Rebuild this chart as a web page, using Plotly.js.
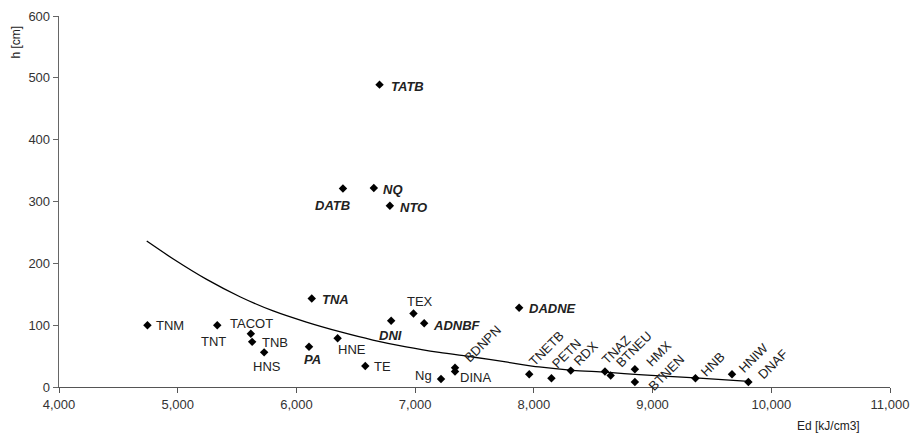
<!DOCTYPE html>
<html>
<head>
<meta charset="utf-8">
<script src="https://cdn.plot.ly/plotly-3.0.1.min.js"></script>
<style>html,body{margin:0;padding:0;background:#fff;}#chart{width:911px;height:434px;}</style>
</head>
<body>
<div id="chart"></div>
<script>
// Data
var names = ['TNM','TNT','TACOT','TNB','HNS','PA','TNA','HNE','TE','DATB','NQ','TATB','NTO','DNI','TEX','ADNBF','Ng','BDNPN','DINA','DADNE','TNETB','PETN','RDX','TNAZ','BTNEU','HMX','BTNEN','HNB','HNIW','DNAF'];
var ed = [4745, 5333, 5616, 5627, 5728, 6106, 6129, 6347, 6580, 6392, 6652, 6700, 6787, 6798, 6986, 7076, 7218, 7336, 7336, 7876, 7961, 8148, 8311, 8599, 8647, 8851, 8851, 9361, 9669, 9807];
var h = [100, 100, 86, 73, 56, 65, 143, 79, 34, 321, 322, 489, 293, 107, 119, 103, 13, 31, 25, 128, 20.5, 14, 26.5, 25, 18.5, 28.6, 8, 14, 20.5, 8];
var emphasised = ['TATB','NQ','DATB','NTO','TNA','DNI','PA','ADNBF','DADNE'];

// Trend curve
var trendEd = [4739, 4963, 5244, 5524, 5804, 6084, 6364, 6644, 6924, 7204, 7484, 7764, 8044, 8324, 8605, 8885, 9361, 9809];
var trendH = [236, 207, 174, 146, 123, 105, 89.5, 76, 65, 56, 48.5, 40.5, 32.4, 27, 24, 20, 14.6, 9];

var xTicks = [4000, 5000, 6000, 7000, 8000, 9000, 10000, 11000];
var yTicks = [0, 100, 200, 300, 400, 500, 600];

// label placement: [anchor, dx(px right), dy(px down), angle]
var place = {
  TNM:['left',7,0,0], TNT:['center',-4,16,0], TACOT:['center',1,-10,0], TNB:['left',8,1,0],
  HNS:['center',3,14,0], PA:['center',3,13,0], TNA:['left',8,1,0], HNE:['center',14,11,0],
  TE:['left',7,1,0], DATB:['center',-10,17,0], NQ:['left',7,2,0], TATB:['left',9,2,0],
  NTO:['left',8,2,0], DNI:['center',-1,15,0], TEX:['center',7,-12,0], ADNBF:['left',7,2,0],
  Ng:['right',-7,-3,0], BDNPN:['center',28,-24,-45], DINA:['left',3,6,0], DADNE:['left',8,1,0],
  TNETB:['center',17,-26,-45], PETN:['center',15,-25,-45], RDX:['center',15,-17,-45],
  TNAZ:['center',11.5,-22,-45], BTNEU:['center',23,-26,-45], HMX:['center',24,-16,-45],
  BTNEN:['center',31.5,-10,-45], HNB:['center',17,-14,-45], HNIW:['center',22,-16.5,-45],
  DNAF:['center',24,-18,-45]
};

var FONT = 'Liberation Sans, Arial, sans-serif';
var annotations = names.map(function(n, i){
  var p = place[n];
  var bold = emphasised.indexOf(n) >= 0;
  return {
    x: ed[i], y: h[i], xref:'x', yref:'y',
    text: bold ? '<b><i>' + n + '</i></b>' : n,
    showarrow:false, xanchor:p[0], yanchor:'middle',
    xshift:p[1], yshift:-p[2], textangle:p[3],
    font:{family:FONT, size:13, color:'#222'}
  };
});
annotations.push({
  xref:'paper', yref:'paper', x:(862-59)/(890-59), y:0, xanchor:'right', yanchor:'top',
  yshift:-30, text:'Ed [kJ/cm3]', showarrow:false, font:{family:FONT, size:12, color:'#222'}
});
annotations.push({
  xref:'paper', yref:'paper', x:0, y:1, xanchor:'center', yanchor:'top', xshift:-44, yshift:-8,
  textangle:-90, text:'h [cm]', showarrow:false, font:{family:FONT, size:12, color:'#222'}
});

var traces = [
  {x: trendEd, y: trendH, mode:'lines', type:'scatter', line:{color:'#000', width:1.3, shape:'spline', smoothing:0.8}, hoverinfo:'skip'},
  {x: ed, y: h, mode:'markers', type:'scatter', marker:{symbol:'diamond', size:6.5, color:'#000'}, cliponaxis:false}
];

var layout = {
  width:911, height:434,
  margin:{l:59, r:21, t:16, b:47},
  paper_bgcolor:'#fff', plot_bgcolor:'#fff',
  showlegend:false, hovermode:false,
  font:{family:FONT, size:13, color:'#333'},
  xaxis:{range:[4000,11000], tickvals:xTicks, tickformat:',d', showgrid:false, zeroline:false,
         showline:true, linecolor:'#555', linewidth:1.3, ticks:'outside', ticklen:5, tickcolor:'#555',
         tickfont:{family:FONT, size:13, color:'#333'}, fixedrange:true},
  yaxis:{range:[0,600], tickvals:yTicks, showgrid:false, zeroline:false,
         showline:true, linecolor:'#666', linewidth:1.3, ticks:'outside', ticklen:5, tickcolor:'#666',
         tickfont:{family:FONT, size:13, color:'#333'}, fixedrange:true},
  annotations: annotations
};

Plotly.newPlot('chart', traces, layout, {staticPlot:true, displayModeBar:false});
</script>
</body>
</html>
